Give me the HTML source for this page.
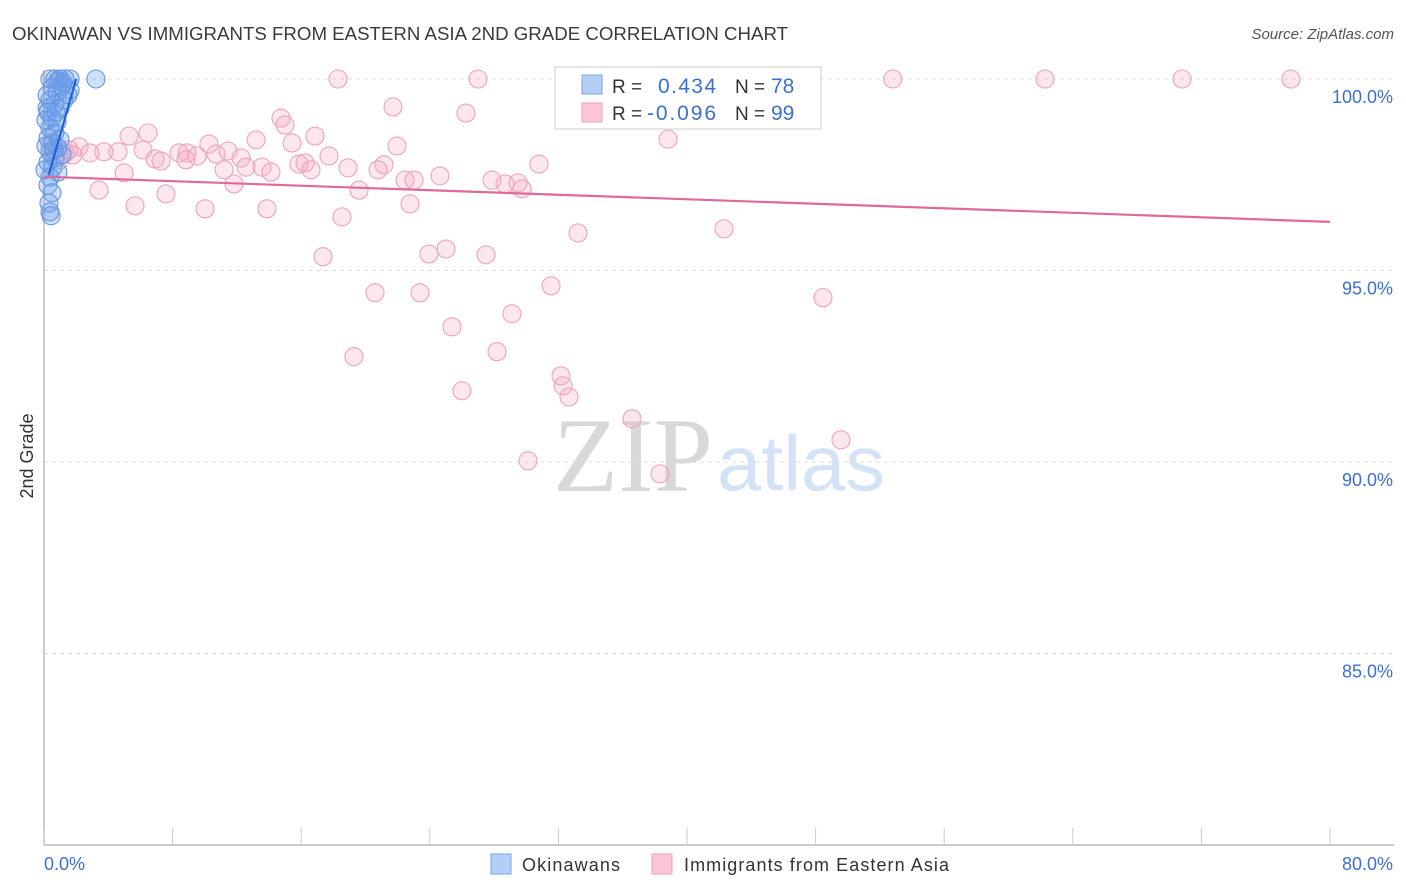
<!DOCTYPE html>
<html><head><meta charset="utf-8"><style>
body{margin:0;background:#fff;font-family:"Liberation Sans",sans-serif}
svg{display:block}
</style></head><body>
<svg id="chart" width="1406" height="892" xmlns="http://www.w3.org/2000/svg">
<text x="12" y="40" font-size="18" fill="#3a3a3a" textLength="776" lengthAdjust="spacingAndGlyphs">OKINAWAN VS IMMIGRANTS FROM EASTERN ASIA 2ND GRADE CORRELATION CHART</text>
<text x="1394" y="39" font-size="15" fill="#555" font-style="italic" text-anchor="end">Source: ZipAtlas.com</text>
<text x="33" y="456" font-size="18" fill="#333" text-anchor="middle" transform="rotate(-90 33 456)">2nd Grade</text>
<g>
<text x="553" y="491" font-family="Liberation Serif,serif" font-size="106" fill="#d8d8d8" textLength="160" lengthAdjust="spacingAndGlyphs">ZIP</text>
<text x="717" y="490" font-size="78" fill="#d3e2f6" textLength="168" lengthAdjust="spacingAndGlyphs">atlas</text>
</g>
<g id="grid"></g><g id="axes"></g><g id="pinkPts"></g><g id="bluePts"></g><g id="lines"></g>
<g>
<rect x="555" y="67" width="266" height="62" fill="#fff" stroke="#ddd" stroke-width="1.5"/>
<rect x="582" y="75" width="20" height="19" fill="#b5cef5" stroke="#7aa3e6"/>
<text x="612" y="93" font-size="19" fill="#333">R = </text>
<text x="658" y="93" font-size="21" fill="#3b6fd4" textLength="58">0.434</text>
<text x="735" y="93" font-size="19" fill="#333">N = </text>
<text x="771" y="93" font-size="21" fill="#3b6fd4">78</text>
<rect x="582" y="103" width="20" height="19" fill="#fcc6d6" stroke="#efa0bb"/>
<text x="612" y="120" font-size="19" fill="#333">R = </text>
<text x="647" y="120" font-size="21" fill="#3b6fd4" textLength="69">-0.096</text>
<text x="735" y="120" font-size="19" fill="#333">N = </text>
<text x="771" y="120" font-size="21" fill="#3b6fd4">99</text>
</g>
<g>
<rect x="491" y="854" width="20" height="20" fill="#b5cef5" stroke="#7aa3e6"/>
<text x="522" y="871" font-size="18" fill="#333" textLength="98">Okinawans</text>
<rect x="652" y="854" width="20" height="20" fill="#fcc6d6" stroke="#efa0bb"/>
<text x="684" y="871" font-size="18" fill="#333" textLength="265">Immigrants from Eastern Asia</text>
</g>
<text x="44" y="870" font-size="18" fill="#3b6fd4">0.0%</text>
<text x="1393" y="870" font-size="18" fill="#3b6fd4" text-anchor="end">80.0%</text>
</svg>
<script>
const yTicks=[100,95,90,85];
const yTickLabels=["100.0%","95.0%","90.0%","85.0%"];
const xTicks=[0,8,16,24,32,40,48,56,64,72,80];
const blueX=[0.37,0.68,1.0,1.31,1.62,0.87,1.18,3.23,0.5,0.81,1.49,1.62,0.37,0.68,1.0,0.25,0.5,0.81,0.37,0.68,0.25,0.56,0.87,0.37,0.68,0.25,0.56,0.87,0.37,0.25,0.5,0.31,0.37,0.44,0.19,0.12,0.12,0.06,0.62,1.12,1.0,0.75,1.24,0.19,1.12];
const blueY=[100,100,100,100,100,99.95,99.9,100,99.77,99.66,99.58,99.71,99.45,99.35,99.24,99.14,98.98,98.88,98.72,98.59,98.46,98.33,98.2,98.1,97.94,97.83,97.7,97.57,97.44,97.23,97.03,96.76,96.53,96.43,99.24,98.93,98.25,97.63,98.15,98.02,98.41,99.14,99.45,99.58,99.82];
const pinkX=[18.29,27.0,52.8,62.27,70.8,77.57,37.82,40.8,43.3,21.71,26.25,38.82,14.74,14.99,6.47,5.29,13.19,16.86,10.26,21.96,15.43,8.90,4.60,3.73,2.18,1.31,1.56,6.16,6.91,7.28,8.40,8.83,9.52,10.70,11.45,12.26,12.57,13.56,14.12,11.20,11.82,15.86,16.24,16.61,17.73,18.91,21.15,20.78,22.46,23.02,24.63,27.87,28.68,29.49,29.74,30.79,19.60,22.77,4.98,3.42,5.66,7.59,10.02,13.87,18.54,33.22,42.30,17.36,23.95,25.01,27.50,20.59,23.39,31.54,48.46,25.38,29.11,19.28,28.18,32.16,32.29,32.66,26.00,36.58,49.58,30.11,38.32,1.0,1.80,2.86,0.37];
const pinkY=[100,100,100,100,100,100,100,100,100,99.27,99.11,98.43,98.98,98.8,98.59,98.51,98.41,98.51,98.30,98.25,98.33,98.07,98.10,98.10,98.23,98.07,98.15,98.15,97.91,97.86,98.07,97.89,97.99,98.04,98.12,97.94,97.70,97.70,97.57,97.63,97.26,97.78,97.81,97.63,97.99,97.68,97.76,97.63,97.36,97.36,97.47,97.36,97.26,97.29,97.13,97.78,97.10,96.74,97.55,97.10,96.69,97.00,96.61,96.61,96.40,95.98,96.09,95.36,95.43,95.56,95.41,94.42,94.42,94.60,94.29,93.53,93.87,92.75,92.88,92.25,91.99,91.70,91.86,91.13,90.58,90.03,89.69,97.89,98.02,98.07,98.28];
const blueTrend=[[0.3,97.5],[2.0,100]];
const pinkTrend=[[0,97.45],[80,96.27]];
const NS="http://www.w3.org/2000/svg";
const sx=v=>44+v*(1330-44)/80;
const sy=v=>845-(v-80)*(845-79)/20;
function mk(tag,attrs,parent){const e=document.createElementNS(NS,tag);for(const k in attrs)e.setAttribute(k,attrs[k]);document.getElementById(parent).appendChild(e);return e;}
yTicks.forEach((t,i)=>{
  const g=mk('line',{x1:44,x2:1394,y1:sy(t),y2:sy(t),stroke:'#ddd','stroke-dasharray':'4 4'},'grid');
  
  
  const l=mk('text',{x:1393,y:sy(t)+24,'font-size':18,fill:'#3b6fd4','text-anchor':'end'},'grid');
  l.textContent=yTickLabels[i];
  
  
});
const ya=mk('line',{x1:44,x2:44,y1:70,y2:845,stroke:'#bbb','stroke-width':1.5},'axes');


const xa=mk('line',{x1:44,x2:1394,y1:845,y2:845,stroke:'#bbb','stroke-width':1.5},'axes');


xTicks.forEach(t=>{
  const k=mk('line',{x1:sx(t),x2:sx(t),y1:828,y2:845,stroke:'#ccc'},'axes');
  
  
});
pinkX.forEach((x,i)=>{
  const c=mk('circle',{cx:sx(x),cy:sy(pinkY[i]),r:9,fill:'rgba(248,170,195,0.28)',stroke:'#eda2bc','stroke-width':1.1},'pinkPts');
  
  
});
blueX.forEach((x,i)=>{
  const c=mk('circle',{cx:sx(x),cy:sy(blueY[i]),r:9,fill:'rgba(110,160,235,0.32)',stroke:'#6596e0','stroke-width':1.1},'bluePts');
  
  
});
const pl=mk('line',{x1:sx(pinkTrend[0][0]),y1:sy(pinkTrend[0][1]),x2:sx(pinkTrend[1][0]),y2:sy(pinkTrend[1][1]),stroke:'#e0689a','stroke-width':2.2},'lines');


const bl=mk('line',{x1:sx(blueTrend[0][0]),y1:sy(blueTrend[0][1]),x2:sx(blueTrend[1][0]),y2:sy(blueTrend[1][1]),stroke:'#1f62d8','stroke-width':2.2},'lines');


</script>
</body></html>
